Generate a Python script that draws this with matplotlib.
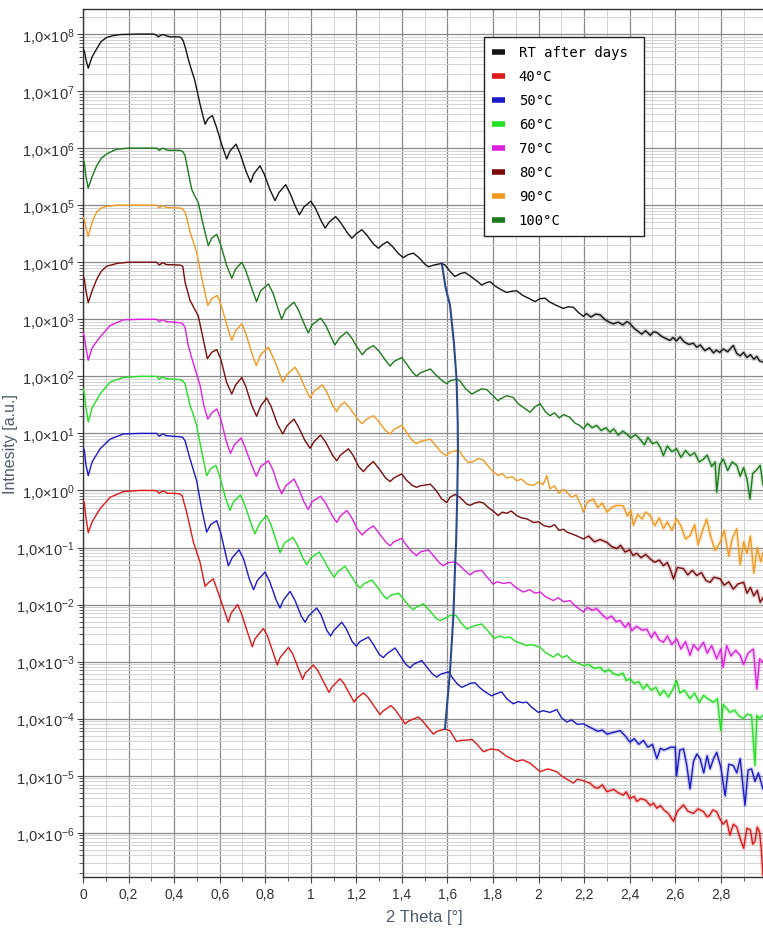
import matplotlib
matplotlib.use("Agg")
import matplotlib.pyplot as plt
import numpy as np
from matplotlib.ticker import FixedLocator, MultipleLocator, FuncFormatter, NullFormatter
from matplotlib.lines import Line2D

plt.rcParams["mathtext.fontset"] = "custom"
plt.rcParams["mathtext.rm"] = "Liberation Sans"
plt.rcParams["mathtext.it"] = "Liberation Sans:italic"
plt.rcParams["mathtext.bf"] = "Liberation Sans:bold"

# ---------------- data (2 Theta [deg], log10 intensity) ----------------
rt_after_days = [(0,7.74),(0.006,7.70),(0.013,7.55),(0.023,7.40),(0.04,7.6),(0.06,7.74),(0.08,7.87),(0.104,7.94),(0.13,7.97),(0.162,7.99),(0.25,8.0),(0.309,8.0),(0.322,7.98),(0.331,7.95),(0.342,7.98),(0.353,7.99),(0.365,7.97),(0.382,7.95),(0.419,7.95),(0.43,7.94),(0.44,7.88),(0.452,7.72),(0.462,7.56),(0.477,7.36),(0.49,7.2),(0.499,7.04),(0.515,6.75),(0.536,6.42),(0.55,6.52),(0.568,6.57),(0.585,6.38),(0.61,6.05),(0.631,5.81),(0.645,5.95),(0.672,6.07),(0.69,5.9),(0.715,5.6),(0.736,5.40),(0.75,5.55),(0.777,5.69),(0.795,5.55),(0.82,5.28),(0.843,5.08),(0.86,5.22),(0.89,5.36),(0.91,5.2),(0.93,5.0),(0.95,4.83),(0.97,4.97),(1.0,5.07),(1.02,4.95),(1.045,4.73),(1.063,4.60),(1.08,4.7),(1.109,4.80),(1.13,4.7),(1.16,4.52),(1.18,4.42),(1.2,4.5),(1.224,4.57),(1.245,4.48),(1.275,4.32),(1.297,4.245),(1.315,4.31),(1.336,4.36),(1.36,4.27),(1.385,4.15),(1.406,4.08),(1.425,4.13),(1.45,4.16),(1.475,4.08),(1.5,3.97),(1.516,3.92),(1.54,3.95),(1.575,3.98),(1.59,3.95),(1.611,3.84),(1.633,3.75),(1.655,3.80),(1.677,3.82),(1.70,3.76),(1.72,3.70),(1.736,3.65),(1.75,3.60),(1.77,3.64),(1.787,3.66),(1.81,3.58),(1.835,3.52),(1.86,3.47),(1.88,3.49),(1.904,3.50),(1.93,3.42),(1.96,3.36),(1.985,3.31),(2.005,3.36),(2.028,3.37),(2.05,3.30),(2.08,3.24),(2.109,3.19),(2.13,3.22),(2.153,3.21),(2.175,3.12),(2.197,3.05),(2.21,3.10),(2.23,3.04),(2.25,3.09),(2.27,3.08),(2.29,3.00),(2.31,2.95),(2.328,2.92),(2.35,2.95),(2.37,2.90),(2.387,2.96),(2.40,2.93),(2.42,2.84),(2.44,2.78),(2.453,2.74),(2.47,2.80),(2.49,2.72),(2.505,2.78),(2.519,2.77),(2.54,2.70),(2.56,2.66),(2.577,2.63),(2.59,2.68),(2.605,2.62),(2.621,2.69),(2.64,2.60),(2.66,2.56),(2.68,2.58),(2.694,2.51),(2.71,2.55),(2.73,2.45),(2.75,2.50),(2.768,2.41),(2.78,2.46),(2.795,2.42),(2.811,2.48),(2.83,2.43),(2.845,2.50),(2.855,2.54),(2.87,2.40),(2.885,2.36),(2.9,2.42),(2.915,2.33),(2.93,2.38),(2.945,2.30),(2.958,2.35),(2.97,2.27),(2.985,2.25)]

t40 = [(0,-0.18),(0.005,-0.2),(0.012,-0.45),(0.023,-0.74),(0.04,-0.55),(0.075,-0.32),(0.119,-0.12),(0.177,-0.02),(0.25,0.0),(0.31,0.0),(0.325,-0.01),(0.335,-0.05),(0.345,-0.02),(0.355,-0.01),(0.37,-0.05),(0.40,-0.05),(0.425,-0.06),(0.435,-0.09),(0.455,-0.38),(0.485,-0.91),(0.514,-1.26),(0.536,-1.68),(0.55,-1.62),(0.572,-1.55),(0.59,-1.75),(0.638,-2.31),(0.65,-2.15),(0.679,-2.0),(0.695,-2.15),(0.743,-2.74),(0.755,-2.6),(0.792,-2.42),(0.81,-2.55),(0.853,-3.06),(0.865,-2.93),(0.902,-2.75),(0.92,-2.86),(0.964,-3.31),(0.976,-3.2),(1.011,-3.06),(1.03,-3.15),(1.08,-3.54),(1.092,-3.45),(1.128,-3.30),(1.145,-3.38),(1.19,-3.71),(1.202,-3.64),(1.231,-3.55),(1.25,-3.62),(1.304,-3.93),(1.316,-3.87),(1.352,-3.77),(1.37,-3.84),(1.414,-4.09),(1.43,-4.04),(1.472,-3.97),(1.49,-4.04),(1.538,-4.27),(1.555,-4.22),(1.589,-4.18),(1.611,-4.21),(1.64,-4.40),(1.66,-4.38),(1.699,-4.37),(1.707,-4.36),(1.73,-4.45),(1.758,-4.58),(1.79,-4.53),(1.823,-4.55),(1.86,-4.66),(1.904,-4.75),(1.93,-4.72),(1.963,-4.78),(2.007,-4.93),(2.04,-4.88),(2.08,-4.93),(2.10,-5.0),(2.12,-5.05),(2.153,-5.13),(2.17,-5.06),(2.19,-5.08),(2.226,-5.13),(2.245,-5.2),(2.26,-5.22),(2.28,-5.16),(2.3,-5.28),(2.33,-5.24),(2.35,-5.30),(2.372,-5.34),(2.385,-5.28),(2.40,-5.40),(2.42,-5.36),(2.431,-5.45),(2.45,-5.40),(2.47,-5.43),(2.49,-5.52),(2.505,-5.48),(2.519,-5.57),(2.535,-5.52),(2.55,-5.60),(2.57,-5.66),(2.592,-5.80),(2.61,-5.62),(2.636,-5.51),(2.655,-5.62),(2.68,-5.66),(2.70,-5.58),(2.724,-5.63),(2.74,-5.72),(2.75,-5.70),(2.765,-5.60),(2.782,-5.63),(2.795,-5.75),(2.81,-5.85),(2.825,-5.78),(2.84,-6.04),(2.855,-5.85),(2.87,-5.90),(2.885,-6.10),(2.9,-6.27),(2.915,-5.92),(2.93,-5.95),(2.94,-6.20),(2.95,-6.15),(2.96,-5.90),(2.97,-5.98),(2.978,-6.3),(2.985,-6.75)]

t50 = [(0,0.76),(0.006,0.7),(0.013,0.45),(0.023,0.26),(0.04,0.5),(0.075,0.73),(0.119,0.90),(0.177,0.99),(0.25,1.0),(0.323,1.0),(0.335,0.95),(0.345,0.98),(0.353,0.99),(0.365,0.96),(0.426,0.94),(0.438,0.93),(0.448,0.87),(0.47,0.55),(0.485,0.35),(0.499,0.17),(0.52,-0.3),(0.543,-0.73),(0.56,-0.6),(0.587,-0.53),(0.605,-0.75),(0.625,-1.1),(0.638,-1.32),(0.655,-1.18),(0.685,-1.04),(0.705,-1.2),(0.73,-1.55),(0.749,-1.74),(0.765,-1.58),(0.799,-1.43),(0.82,-1.6),(0.848,-1.92),(0.865,-2.06),(0.88,-1.92),(0.909,-1.77),(0.93,-1.92),(0.958,-2.2),(0.975,-2.31),(0.99,-2.2),(1.026,-2.06),(1.045,-2.18),(1.07,-2.45),(1.087,-2.55),(1.10,-2.46),(1.136,-2.31),(1.155,-2.42),(1.182,-2.65),(1.2,-2.73),(1.215,-2.65),(1.253,-2.57),(1.275,-2.7),(1.30,-2.87),(1.318,-2.93),(1.335,-2.86),(1.37,-2.76),(1.39,-2.88),(1.418,-3.05),(1.436,-3.11),(1.45,-3.05),(1.487,-2.98),(1.51,-3.10),(1.535,-3.22),(1.553,-3.27),(1.57,-3.22),(1.604,-3.18),(1.625,-3.30),(1.645,-3.40),(1.663,-3.45),(1.68,-3.42),(1.70,-3.38),(1.721,-3.37),(1.74,-3.45),(1.765,-3.53),(1.794,-3.60),(1.81,-3.57),(1.838,-3.53),(1.86,-3.65),(1.889,-3.74),(1.91,-3.70),(1.93,-3.72),(1.948,-3.71),(1.97,-3.80),(1.999,-3.89),(2.02,-3.86),(2.05,-3.89),(2.08,-3.84),(2.10,-3.98),(2.124,-4.06),(2.145,-4.02),(2.17,-4.10),(2.197,-4.09),(2.22,-4.14),(2.24,-4.18),(2.26,-4.22),(2.28,-4.20),(2.3,-4.27),(2.33,-4.24),(2.358,-4.21),(2.38,-4.30),(2.401,-4.41),(2.42,-4.35),(2.44,-4.45),(2.46,-4.38),(2.48,-4.50),(2.5,-4.45),(2.519,-4.70),(2.535,-4.52),(2.55,-4.55),(2.563,-4.53),(2.58,-4.50),(2.6,-4.50),(2.606,-5.0),(2.62,-4.55),(2.636,-4.53),(2.65,-4.80),(2.665,-5.23),(2.68,-4.75),(2.695,-4.62),(2.709,-4.70),(2.725,-4.95),(2.74,-4.65),(2.753,-4.88),(2.768,-4.70),(2.782,-4.59),(2.80,-4.85),(2.819,-5.35),(2.835,-4.80),(2.855,-4.82),(2.87,-4.95),(2.885,-4.70),(2.906,-5.52),(2.92,-4.90),(2.935,-4.88),(2.95,-5.10),(2.965,-4.95),(2.985,-5.23)]

t60 = [(0,1.78),(0.006,1.7),(0.013,1.45),(0.023,1.20),(0.04,1.45),(0.075,1.69),(0.119,1.90),(0.177,1.98),(0.25,2.0),(0.323,2.0),(0.335,1.95),(0.345,1.98),(0.353,1.99),(0.365,1.96),(0.426,1.94),(0.438,1.92),(0.448,1.87),(0.47,1.49),(0.485,1.32),(0.499,1.14),(0.52,0.7),(0.543,0.26),(0.56,0.38),(0.584,0.44),(0.60,0.25),(0.625,-0.12),(0.645,-0.35),(0.66,-0.2),(0.691,-0.08),(0.71,-0.25),(0.735,-0.55),(0.755,-0.76),(0.775,-0.58),(0.806,-0.44),(0.825,-0.6),(0.85,-0.9),(0.865,-1.09),(0.885,-0.92),(0.921,-0.82),(0.94,-0.95),(0.965,-1.18),(0.982,-1.30),(1.0,-1.18),(1.037,-1.08),(1.055,-1.2),(1.085,-1.42),(1.102,-1.52),(1.12,-1.42),(1.15,-1.33),(1.17,-1.45),(1.2,-1.64),(1.216,-1.71),(1.235,-1.63),(1.268,-1.57),(1.29,-1.68),(1.318,-1.84),(1.334,-1.90),(1.35,-1.84),(1.385,-1.80),(1.41,-1.92),(1.435,-2.04),(1.45,-2.09),(1.465,-2.04),(1.494,-1.99),(1.52,-2.10),(1.55,-2.24),(1.567,-2.28),(1.59,-2.24),(1.611,-2.19),(1.638,-2.19),(1.66,-2.32),(1.685,-2.43),(1.70,-2.40),(1.72,-2.37),(1.75,-2.34),(1.775,-2.45),(1.80,-2.57),(1.809,-2.59),(1.83,-2.55),(1.85,-2.58),(1.875,-2.57),(1.90,-2.65),(1.925,-2.68),(1.948,-2.72),(1.97,-2.70),(2.007,-2.75),(2.03,-2.84),(2.065,-2.92),(2.085,-2.86),(2.105,-2.93),(2.124,-2.89),(2.145,-2.98),(2.17,-3.02),(2.197,-3.07),(2.22,-3.05),(2.245,-3.12),(2.27,-3.10),(2.29,-3.18),(2.31,-3.14),(2.328,-3.21),(2.35,-3.24),(2.37,-3.20),(2.385,-3.33),(2.401,-3.30),(2.42,-3.38),(2.44,-3.35),(2.46,-3.48),(2.475,-3.40),(2.495,-3.50),(2.515,-3.45),(2.533,-3.59),(2.55,-3.50),(2.57,-3.62),(2.59,-3.48),(2.606,-3.33),(2.62,-3.55),(2.64,-3.50),(2.665,-3.65),(2.685,-3.55),(2.705,-3.72),(2.724,-3.59),(2.745,-3.66),(2.768,-3.71),(2.785,-3.65),(2.8,-4.21),(2.81,-3.75),(2.825,-3.82),(2.84,-3.89),(2.86,-3.85),(2.88,-3.95),(2.9,-4.0),(2.915,-3.92),(2.935,-3.94),(2.95,-4.82),(2.958,-3.94),(2.97,-4.0),(2.985,-3.94)]

t70 = [(0,2.77),(0.006,2.7),(0.013,2.5),(0.023,2.28),(0.04,2.5),(0.075,2.69),(0.119,2.89),(0.177,2.99),(0.25,3.0),(0.323,3.0),(0.335,2.96),(0.345,2.98),(0.353,2.99),(0.365,2.96),(0.426,2.94),(0.438,2.92),(0.448,2.86),(0.462,2.54),(0.477,2.33),(0.492,2.13),(0.514,1.84),(0.53,1.5),(0.548,1.25),(0.565,1.36),(0.588,1.43),(0.605,1.25),(0.628,0.88),(0.647,0.65),(0.665,0.8),(0.694,0.92),(0.712,0.75),(0.74,0.45),(0.761,0.25),(0.78,0.42),(0.814,0.52),(0.835,0.35),(0.855,0.1),(0.872,-0.06),(0.89,0.08),(0.926,0.20),(0.945,0.05),(0.97,-0.2),(0.989,-0.335),(1.005,-0.2),(1.043,-0.10),(1.065,-0.22),(1.095,-0.45),(1.114,-0.56),(1.13,-0.45),(1.158,-0.35),(1.18,-0.48),(1.205,-0.68),(1.226,-0.78),(1.245,-0.70),(1.275,-0.62),(1.30,-0.75),(1.328,-0.90),(1.348,-0.97),(1.365,-0.90),(1.399,-0.84),(1.42,-0.96),(1.445,-1.08),(1.464,-1.14),(1.48,-1.08),(1.516,-1.04),(1.54,-1.15),(1.565,-1.27),(1.582,-1.32),(1.60,-1.27),(1.633,-1.25),(1.655,-1.32),(1.68,-1.42),(1.699,-1.48),(1.72,-1.42),(1.75,-1.40),(1.77,-1.50),(1.80,-1.64),(1.82,-1.60),(1.845,-1.63),(1.875,-1.61),(1.90,-1.70),(1.933,-1.78),(1.96,-1.74),(1.985,-1.80),(2.007,-1.78),(2.03,-1.86),(2.065,-1.93),(2.085,-1.88),(2.11,-1.95),(2.138,-1.93),(2.16,-2.02),(2.18,-2.08),(2.197,-2.13),(2.215,-2.05),(2.235,-2.10),(2.255,-2.07),(2.28,-2.18),(2.3,-2.25),(2.32,-2.20),(2.34,-2.30),(2.358,-2.28),(2.38,-2.40),(2.395,-2.32),(2.41,-2.46),(2.43,-2.38),(2.455,-2.45),(2.475,-2.43),(2.495,-2.58),(2.51,-2.48),(2.53,-2.62),(2.548,-2.66),(2.565,-2.55),(2.585,-2.70),(2.606,-2.60),(2.625,-2.78),(2.645,-2.65),(2.665,-2.89),(2.68,-2.70),(2.7,-2.80),(2.724,-2.66),(2.74,-2.85),(2.76,-2.72),(2.782,-2.95),(2.80,-2.78),(2.81,-3.1),(2.826,-2.72),(2.845,-2.90),(2.865,-2.80),(2.885,-2.89),(2.9,-3.05),(2.92,-2.85),(2.943,-2.78),(2.958,-3.48),(2.97,-2.95),(2.985,-3.01)]

t80 = [(0,3.77),(0.006,3.7),(0.013,3.5),(0.023,3.29),(0.04,3.5),(0.06,3.7),(0.08,3.84),(0.104,3.93),(0.15,3.98),(0.2,4.0),(0.323,4.0),(0.335,3.95),(0.345,3.98),(0.353,3.99),(0.365,3.96),(0.426,3.95),(0.438,3.93),(0.448,3.65),(0.47,3.33),(0.49,3.18),(0.506,3.06),(0.525,2.7),(0.546,2.31),(0.565,2.42),(0.587,2.47),(0.605,2.3),(0.63,1.9),(0.653,1.69),(0.67,1.85),(0.697,1.98),(0.715,1.82),(0.74,1.5),(0.762,1.30),(0.78,1.48),(0.806,1.62),(0.825,1.48),(0.855,1.15),(0.877,0.99),(0.895,1.13),(0.926,1.25),(0.945,1.12),(0.975,0.87),(0.997,0.74),(1.015,0.86),(1.043,0.97),(1.065,0.85),(1.095,0.62),(1.114,0.52),(1.13,0.62),(1.165,0.73),(1.185,0.62),(1.21,0.42),(1.231,0.33),(1.25,0.42),(1.275,0.505),(1.30,0.38),(1.328,0.22),(1.348,0.155),(1.365,0.22),(1.399,0.29),(1.42,0.18),(1.445,0.09),(1.464,0.055),(1.48,0.08),(1.525,0.11),(1.55,0.0),(1.575,-0.15),(1.597,-0.21),(1.611,-0.12),(1.633,-0.07),(1.655,-0.12),(1.685,-0.24),(1.70,-0.26),(1.72,-0.22),(1.74,-0.20),(1.758,-0.22),(1.78,-0.30),(1.80,-0.36),(1.823,-0.44),(1.84,-0.38),(1.86,-0.40),(1.88,-0.36),(1.904,-0.44),(1.925,-0.48),(1.95,-0.50),(1.977,-0.56),(2.0,-0.55),(2.025,-0.62),(2.05,-0.64),(2.07,-0.60),(2.09,-0.70),(2.11,-0.68),(2.124,-0.73),(2.145,-0.76),(2.17,-0.80),(2.197,-0.85),(2.22,-0.80),(2.245,-0.90),(2.27,-0.86),(2.3,-0.91),(2.32,-0.98),(2.343,-1.02),(2.36,-0.96),(2.38,-1.08),(2.40,-1.04),(2.415,-1.14),(2.431,-1.10),(2.45,-1.18),(2.47,-1.12),(2.49,-1.20),(2.51,-1.26),(2.53,-1.22),(2.548,-1.32),(2.565,-1.26),(2.58,-1.40),(2.592,-1.55),(2.61,-1.35),(2.636,-1.37),(2.655,-1.48),(2.675,-1.40),(2.694,-1.49),(2.715,-1.44),(2.735,-1.58),(2.753,-1.61),(2.77,-1.52),(2.797,-1.55),(2.815,-1.66),(2.835,-1.60),(2.855,-1.73),(2.875,-1.64),(2.9,-1.61),(2.915,-1.80),(2.93,-1.70),(2.945,-1.85),(2.96,-1.75),(2.973,-1.96),(2.985,-1.88)]

t90 = [(0,4.79),(0.006,4.75),(0.013,4.6),(0.023,4.455),(0.04,4.7),(0.06,4.88),(0.08,4.95),(0.104,4.98),(0.15,5.0),(0.323,5.0),(0.335,4.95),(0.345,4.98),(0.353,4.99),(0.365,4.96),(0.426,4.95),(0.438,4.93),(0.448,4.88),(0.46,4.7),(0.47,4.53),(0.485,4.35),(0.499,4.17),(0.52,3.75),(0.548,3.24),(0.565,3.36),(0.59,3.42),(0.61,3.2),(0.635,2.85),(0.653,2.63),(0.67,2.8),(0.697,2.92),(0.715,2.75),(0.74,2.42),(0.761,2.19),(0.78,2.38),(0.814,2.51),(0.835,2.33),(0.86,2.08),(0.877,1.90),(0.895,2.03),(0.931,2.16),(0.95,2.03),(0.977,1.78),(0.997,1.62),(1.015,1.74),(1.051,1.85),(1.07,1.73),(1.095,1.5),(1.114,1.38),(1.125,1.47),(1.148,1.55),(1.17,1.45),(1.205,1.25),(1.226,1.17),(1.245,1.25),(1.275,1.31),(1.30,1.2),(1.328,1.05),(1.348,0.99),(1.365,1.07),(1.399,1.14),(1.42,1.02),(1.445,0.88),(1.464,0.82),(1.48,0.86),(1.525,0.90),(1.55,0.78),(1.575,0.66),(1.597,0.61),(1.611,0.67),(1.64,0.70),(1.655,0.68),(1.675,0.56),(1.692,0.49),(1.71,0.50),(1.735,0.56),(1.758,0.53),(1.78,0.42),(1.80,0.33),(1.823,0.26),(1.84,0.30),(1.86,0.22),(1.885,0.24),(1.904,0.17),(1.925,0.20),(1.95,0.11),(1.977,0.09),(2.0,0.15),(2.02,0.10),(2.036,0.26),(2.05,0.03),(2.07,0.08),(2.09,-0.05),(2.11,0.02),(2.124,-0.03),(2.145,-0.12),(2.165,-0.08),(2.185,-0.25),(2.197,-0.38),(2.215,-0.2),(2.24,-0.15),(2.26,-0.30),(2.28,-0.22),(2.3,-0.38),(2.32,-0.30),(2.345,-0.26),(2.372,-0.27),(2.39,-0.45),(2.405,-0.35),(2.416,-0.61),(2.435,-0.42),(2.455,-0.50),(2.47,-0.38),(2.49,-0.44),(2.51,-0.62),(2.53,-0.48),(2.548,-0.67),(2.565,-0.55),(2.585,-0.70),(2.606,-0.50),(2.625,-0.62),(2.645,-0.85),(2.665,-0.79),(2.685,-0.60),(2.70,-0.95),(2.72,-0.70),(2.738,-0.50),(2.755,-0.80),(2.775,-1.05),(2.797,-0.91),(2.815,-0.70),(2.835,-1.15),(2.85,-0.85),(2.87,-0.67),(2.885,-1.30),(2.9,-0.90),(2.915,-1.10),(2.93,-0.80),(2.945,-1.45),(2.96,-1.0),(2.975,-1.25),(2.985,-1.1)]

t100 = [(0,5.80),(0.006,5.75),(0.013,5.5),(0.023,5.30),(0.04,5.5),(0.06,5.69),(0.08,5.82),(0.104,5.90),(0.147,5.98),(0.2,6.0),(0.323,6.0),(0.335,5.96),(0.345,5.99),(0.353,6.0),(0.365,5.97),(0.382,5.96),(0.426,5.96),(0.438,5.94),(0.448,5.87),(0.462,5.58),(0.477,5.28),(0.492,5.15),(0.506,5.05),(0.525,4.7),(0.55,4.29),(0.565,4.42),(0.587,4.49),(0.605,4.3),(0.63,3.95),(0.653,3.72),(0.67,3.88),(0.697,4.0),(0.715,3.85),(0.74,3.55),(0.762,3.31),(0.78,3.5),(0.814,3.62),(0.835,3.45),(0.855,3.2),(0.872,3.0),(0.89,3.17),(0.926,3.30),(0.945,3.17),(0.97,2.93),(0.989,2.76),(1.005,2.9),(1.043,3.02),(1.065,2.9),(1.09,2.68),(1.106,2.55),(1.125,2.67),(1.158,2.78),(1.18,2.67),(1.205,2.5),(1.226,2.38),(1.245,2.47),(1.275,2.54),(1.30,2.44),(1.328,2.28),(1.348,2.18),(1.365,2.26),(1.399,2.33),(1.42,2.22),(1.445,2.08),(1.464,2.0),(1.48,2.06),(1.525,2.13),(1.55,2.02),(1.575,1.93),(1.597,1.87),(1.611,1.92),(1.64,1.95),(1.655,1.92),(1.68,1.78),(1.707,1.69),(1.73,1.74),(1.75,1.78),(1.772,1.77),(1.80,1.66),(1.823,1.57),(1.83,1.60),(1.86,1.66),(1.889,1.63),(1.91,1.52),(1.935,1.45),(1.963,1.37),(1.985,1.47),(2.007,1.52),(2.03,1.38),(2.05,1.31),(2.07,1.36),(2.09,1.27),(2.11,1.33),(2.138,1.28),(2.16,1.18),(2.18,1.14),(2.197,1.08),(2.215,1.17),(2.235,1.10),(2.255,1.14),(2.275,1.05),(2.295,1.10),(2.314,1.02),(2.33,1.08),(2.35,0.97),(2.37,1.04),(2.387,0.99),(2.405,0.92),(2.425,0.98),(2.445,0.90),(2.465,0.80),(2.48,0.93),(2.50,0.82),(2.519,0.85),(2.535,0.75),(2.548,0.61),(2.565,0.78),(2.585,0.68),(2.606,0.73),(2.625,0.58),(2.645,0.70),(2.665,0.61),(2.685,0.66),(2.705,0.50),(2.724,0.55),(2.74,0.62),(2.76,0.42),(2.775,0.50),(2.782,-0.03),(2.795,0.45),(2.811,0.55),(2.83,0.35),(2.85,0.50),(2.87,0.44),(2.885,0.25),(2.9,0.40),(2.915,0.20),(2.928,-0.15),(2.94,0.30),(2.955,0.35),(2.973,0.44),(2.985,0.1)]

# connecting guide line (2 Theta, log10 intensity)
guide_x = [1.575, 1.592, 1.611, 1.628, 1.640, 1.645, 1.646, 1.643, 1.638, 1.634, 1.626, 1.611, 1.589]
guide_y = [3.98, 3.55, 3.25, 2.6, 1.95, 1.2, 0.70, -0.09, -0.90, -1.26, -2.19, -3.18, -4.18]

labels = ["RT after days ", "40°C", "50°C", "60°C", "70°C", "80°C", "90°C", "100°C"]
series = [rt_after_days, t40, t50, t60, t70, t80, t90, t100]
colors = ["#151515", "#e01818", "#1a1ac8", "#22e022", "#e020e0", "#7a0c0c", "#f39a1e", "#1c7a1c"]
y_decades = list(range(-6, 9))

# ---------------- figure ----------------
W, H = 763, 929
fig = plt.figure(figsize=(W / 100, H / 100), dpi=100)
ax = fig.add_axes([83 / W, 1 - 877.7 / H, 682 / W, 868.2 / H])
ax.set_yscale("log")

for s, c in zip(series[::-1], colors[::-1]):
    xs = np.array([p[0] for p in s])
    ys = 10 ** np.array([p[1] for p in s])
    m = xs >= 2.2
    ax.plot(xs[m], ys[m], color=c, lw=3.0, alpha=0.18, solid_joinstyle="round", zorder=2)
    ax.plot(xs, ys, color=c, lw=1.0, zorder=3)

ax.plot(guide_x, 10 ** np.array(guide_y), color="#2b4a8c", lw=1.5, zorder=4)

ax.set_xlim(0, 2.994)
ax.set_ylim(1.7e-7, 2.8e8)

ax.xaxis.set_major_locator(MultipleLocator(0.2))
ax.xaxis.set_minor_locator(MultipleLocator(0.1))
ax.xaxis.set_major_formatter(FuncFormatter(lambda v, p: ("%g" % round(v, 1)).replace(".", ",")))
ax.yaxis.set_major_locator(FixedLocator([10.0 ** k for k in y_decades]))
ax.yaxis.set_minor_locator(FixedLocator([m * 10.0 ** k for k in [-7] + y_decades for m in range(2, 10)
                                         if 1.7e-7 <= m * 10.0 ** k <= 2.8e8]))
ax.yaxis.set_minor_formatter(NullFormatter())
ax.yaxis.set_major_formatter(FuncFormatter(lambda v, p: r"1,0×10$^{%d}$" % int(round(np.log10(v)))))

ax.grid(which="major", color="#8a8a8a", lw=0.9)
ax.grid(which="minor", color="#d2d2d2", lw=0.7)
ax.set_axisbelow(True)

for side in ["top", "left", "bottom"]:
    ax.spines[side].set_color("#333333")
    ax.spines[side].set_linewidth(1.0)
ax.spines["right"].set_visible(False)

ax.tick_params(which="major", direction="out", length=4.5, color="#444444", labelcolor="#333333")
ax.tick_params(which="minor", direction="out", length=3, color="#444444")
ax.tick_params(axis="y", which="major", labelsize=10.5, pad=1.5)
ax.tick_params(axis="x", which="major", labelsize=10, pad=3)
ax.tick_params(axis="y", which="both", right=False)
for lab in ax.get_yticklabels() + ax.get_xticklabels():
    lab.set_family("Liberation Sans")

ax.set_xlabel("2 Theta [°]", family="Liberation Sans", fontsize=12, color="#4b5d6e", labelpad=6)
ax.set_ylabel("Intnesity [a.u.]", family="Liberation Sans", fontsize=11.5, color="#4b5d6e")
ax.yaxis.set_label_coords(-0.096, 0.50)

handles = [Line2D([], [], color=c, lw=4, solid_capstyle="butt") for c in colors]
leg = ax.legend(handles, labels, loc="upper left", bbox_to_anchor=(0.588, 0.967),
                prop={"family": "DejaVu Sans Mono", "size": 10}, frameon=True, fancybox=False,
                handlelength=0.9, handletextpad=1.0, labelspacing=0.72, borderpad=0.6,
                borderaxespad=0.0)
leg.get_frame().set_edgecolor("#222222")
leg.get_frame().set_linewidth(1.0)
leg.get_frame().set_alpha(1.0)

fig.savefig("out.png", dpi=100)
